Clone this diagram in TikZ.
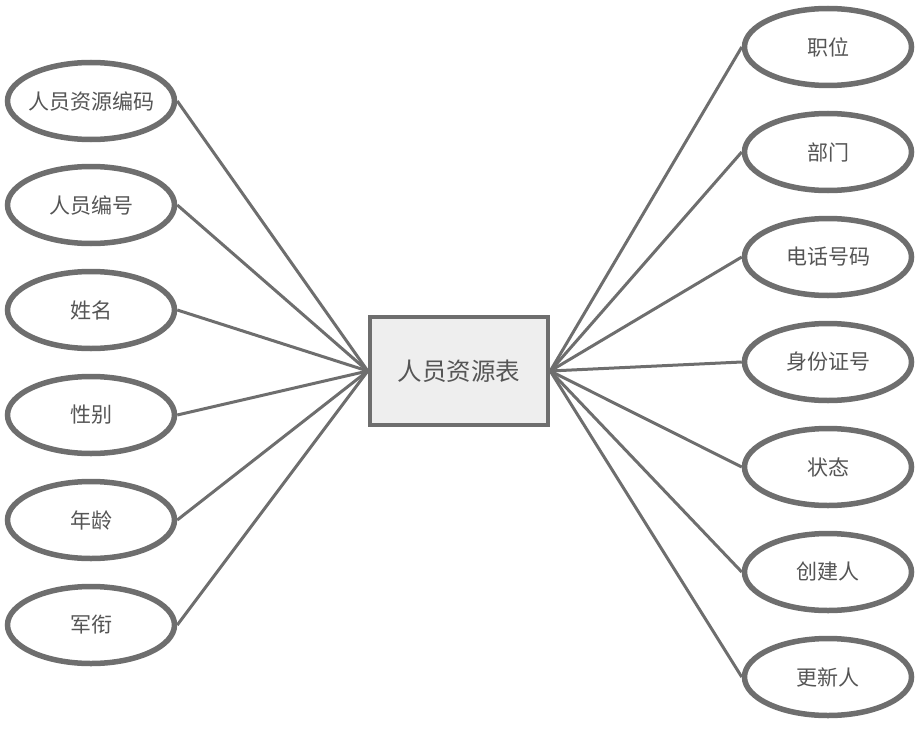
\documentclass[tikz,border=0pt]{standalone}
\usepackage{fontspec}
\setmainfont{Noto Sans CJK SC}
\usetikzlibrary{shapes.geometric}

\definecolor{edgegray}{HTML}{6E6E6E}
\definecolor{textgray}{HTML}{555555}
\definecolor{boxfill}{HTML}{EEEEEE}

\tikzset{
  attr/.style={ellipse, draw=edgegray, line width=5.5pt, fill=white,
    minimum width=167pt, minimum height=77pt, inner ysep=0pt, inner xsep=-20pt,
    text=textgray, font=\fontsize{21pt}{24pt}\selectfont},
  entity/.style={rectangle, draw=edgegray, line width=4.5pt, fill=boxfill,
    minimum width=178pt, minimum height=108pt, inner sep=0pt,
    text=textgray, font=\fontsize{24.5pt}{28pt}\selectfont},
  link/.style={draw=edgegray, line width=3pt}
}

\begin{document}
\begin{tikzpicture}[x=1pt,y=-1pt]
  \useasboundingbox (0,0) rectangle (917,741);

  % center table
  \node[entity] (tbl) at (459,371) {人员资源表};

  % left attributes
  \foreach \i/\y/\txt in {1/101/人员资源编码, 2/205/人员编号, 3/310/姓名,
                          4/415/性别, 5/520/年龄, 6/625/军衔} {
    \node[attr] (l\i) at (91,\y) {\txt};
    \draw[link] (l\i.east) -- (tbl.west);
  }

  % right attributes
  \foreach \i/\y/\txt in {1/47/职位, 2/152/部门, 3/257/电话号码, 4/362/身份证号,
                          5/467/状态, 6/572/创建人, 7/677/更新人} {
    \node[attr] (r\i) at (828,\y) {\txt};
    \draw[link] (r\i.west) -- (tbl.east);
  }
\end{tikzpicture}
\end{document}
